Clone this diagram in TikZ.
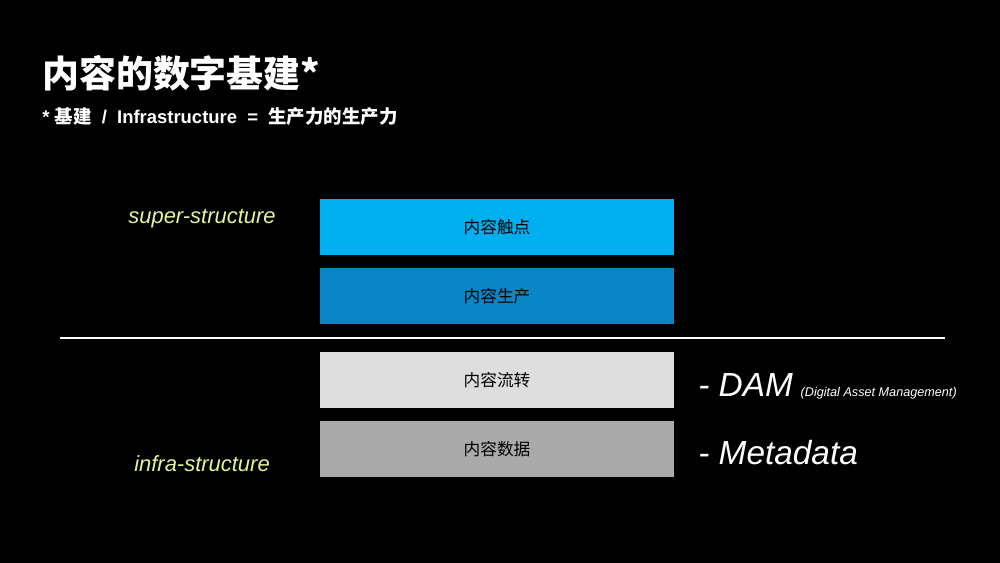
\documentclass[tikz,border=0pt]{standalone}
\usepackage{fontspec}
\setmainfont{Liberation Sans}
\newfontfamily\cjk{Noto Sans CJK SC}
\begin{document}
\begin{tikzpicture}[x=0.02cm,y=-0.02cm,
  layer/.style={minimum width=354*0.02cm,minimum height=56*0.02cm,inner sep=0,font=\cjk\fontsize{9.5}{11}\selectfont,text=black},
  side/.style={text=labelgreen,font=\itshape\fontsize{12.5}{14}\selectfont,inner sep=0},
  note/.style={text=white,font=\itshape\fontsize{19}{22}\selectfont,inner sep=0,anchor=west}]
\definecolor{labelgreen}{HTML}{E4F29A}
\fill[black] (0,0) rectangle (1000,563);
\useasboundingbox (0,0) rectangle (1000,563);
\node[anchor=base west,text=white,inner sep=0,font=\cjk\bfseries\fontsize{21}{24}\selectfont] (title) at (42,88) {内容的数字基建*};
\node[anchor=base west,text=white,inner sep=0,font=\bfseries\fontsize{10.5}{12}\selectfont] (sub) at (42,124) {* {\cjk 基建} \ / \ Infrastructure \ = \ {\cjk 生产力的生产力}};
\node[layer,fill={rgb,255:red,0;green,175;blue,240}] (l1) at (497,227) {内容触点};
\node[layer,fill={rgb,255:red,10;green,134;blue,198}] (l2) at (497,296) {内容生产};
\node[layer,fill={rgb,255:red,222;green,222;blue,222}] (l3) at (497,380) {内容流转};
\node[layer,fill={rgb,255:red,170;green,170;blue,170}] (l4) at (497,449) {内容数据};
\coordinate (la) at (60,338); \coordinate (lb) at (945,338);
\draw[white,line width=0.9pt] (la) -- (lb);
\node[side] (sup) at (202,219) {super-structure};
\node[side] (inf) at (202,464) {infra-structure};
\node[note] (dam) at (698,385) {- DAM};
\node[anchor=base west,text=white,inner sep=0,font=\itshape\fontsize{7.2}{8}\selectfont] (damfull) at (dam.base east) {\hspace{4pt}(Digital Asset Management)};
\node[note] (meta) at (698,453) {- Metadata};
\end{tikzpicture}
\end{document}
